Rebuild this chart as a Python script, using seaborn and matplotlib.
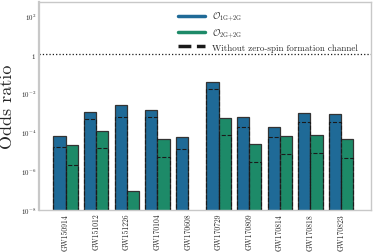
import numpy as np
import pandas as pd
import matplotlib
matplotlib.use("Agg")
import matplotlib.pyplot as plt
from matplotlib.lines import Line2D
import seaborn as sns

events = ["GW150914", "GW151012", "GW151226", "GW170104", "GW170608",
          "GW170729", "GW170809", "GW170814", "GW170818", "GW170823"]
# log10 of odds ratios
o12_log = [-4.20, -2.98, -2.60, -2.84, -4.22, -1.39, -3.24, -3.75, -3.00, -3.07]
o22_log = [-4.68, -3.92, -7.01, -4.37, np.nan, -3.26, -4.59, -4.20, -4.13, -4.37]
o12_nozero_log = [-4.78, -3.33, -3.20, -3.24, -4.85, -1.77, -3.72, -4.23, -3.46, -3.46]
o22_nozero_log = [-5.71, -4.82, np.nan, -5.26, np.nan, -4.15, -5.55, -5.11, -5.07, -5.31]

series = ["1G+2G", "2G+2G"]
colors = ["#1f6a97", "#1d8a68"]
ytick_vals = [1e-8, 1e-6, 1e-4, 1e-2, 1, 1e2]
ytick_labels = [r"$10^{-8}$", r"$10^{-6}$", r"$10^{-4}$", r"$10^{-2}$", r"$1$", r"$10^{2}$"]
legend_labels = [r"$\mathcal{O}_{\rm 1G{+}2G}$", r"$\mathcal{O}_{\rm 2G{+}2G}$",
                 "Without zero-spin formation channel"]

sns.set_theme(style="white")
plt.rcParams["font.family"] = "serif"
plt.rcParams["font.serif"] = ["cmr10", "DejaVu Serif"]
plt.rcParams["mathtext.fontset"] = "cm"
plt.rcParams["axes.formatter.use_mathtext"] = True

def make_df(a, b):
    rows = []
    for e, v in zip(events, a):
        rows.append((e, series[0], 10 ** v if not np.isnan(v) else np.nan))
    for e, v in zip(events, b):
        rows.append((e, series[1], 10 ** v if not np.isnan(v) else np.nan))
    return pd.DataFrame(rows, columns=["event", "model", "odds"]).dropna()

df = make_df(o12_log, o22_log)
df_nz = make_df(o12_nozero_log, o22_nozero_log)

fig = plt.figure(figsize=(3.74, 2.53), dpi=100)
ax = fig.add_axes([0.104, 0.166, 0.888, 0.822])
ax.set_yscale("log")

sns.barplot(data=df, x="event", y="odds", hue="model", order=events,
            hue_order=series, palette=colors, errorbar=None, width=0.8,
            saturation=1, edgecolor="0.2", linewidth=0.9, legend=False, ax=ax)
sns.barplot(data=df_nz, x="event", y="odds", hue="model", order=events,
            hue_order=series, palette=["k", "k"], errorbar=None, width=0.8,
            saturation=1, fill=False, linewidth=0.8, linestyle="--",
            legend=False, ax=ax)

ax.axhline(1, color="k", ls=":", lw=0.9)

ax.set_ylim(1e-8, 5e2)
ax.set_xlim(-0.87, 9.98)
ax.set_yticks(ytick_vals)
ax.set_yticklabels(ytick_labels, fontsize=5)
ax.yaxis.set_minor_locator(matplotlib.ticker.NullLocator())
ax.set_xticks(range(len(events)))
ax.set_xticklabels(events, rotation=90, fontsize=5.5)
ax.set_xlabel("")
ax.set_ylabel("Odds ratio", fontsize=13)
ax.tick_params(axis="both", direction="in", length=3, width=0.6, color="0.4", pad=2)

for s in ax.spines.values():
    s.set_color("#c8c8c8")
    s.set_linewidth(1.0)
ax.spines["left"].set_linewidth(1.6)

handles = [Line2D([], [], color=colors[0], lw=2.5),
           Line2D([], [], color=colors[1], lw=2.5),
           Line2D([], [], color="k", lw=2.5, ls="--")]
ax.legend(handles, legend_labels, loc="upper right", fontsize=6.5, frameon=False,
          handlelength=3.0, labelspacing=0.4,
          bbox_to_anchor=(0.972, 0.98), borderaxespad=0.0)

fig.savefig("out.png", dpi=100)
